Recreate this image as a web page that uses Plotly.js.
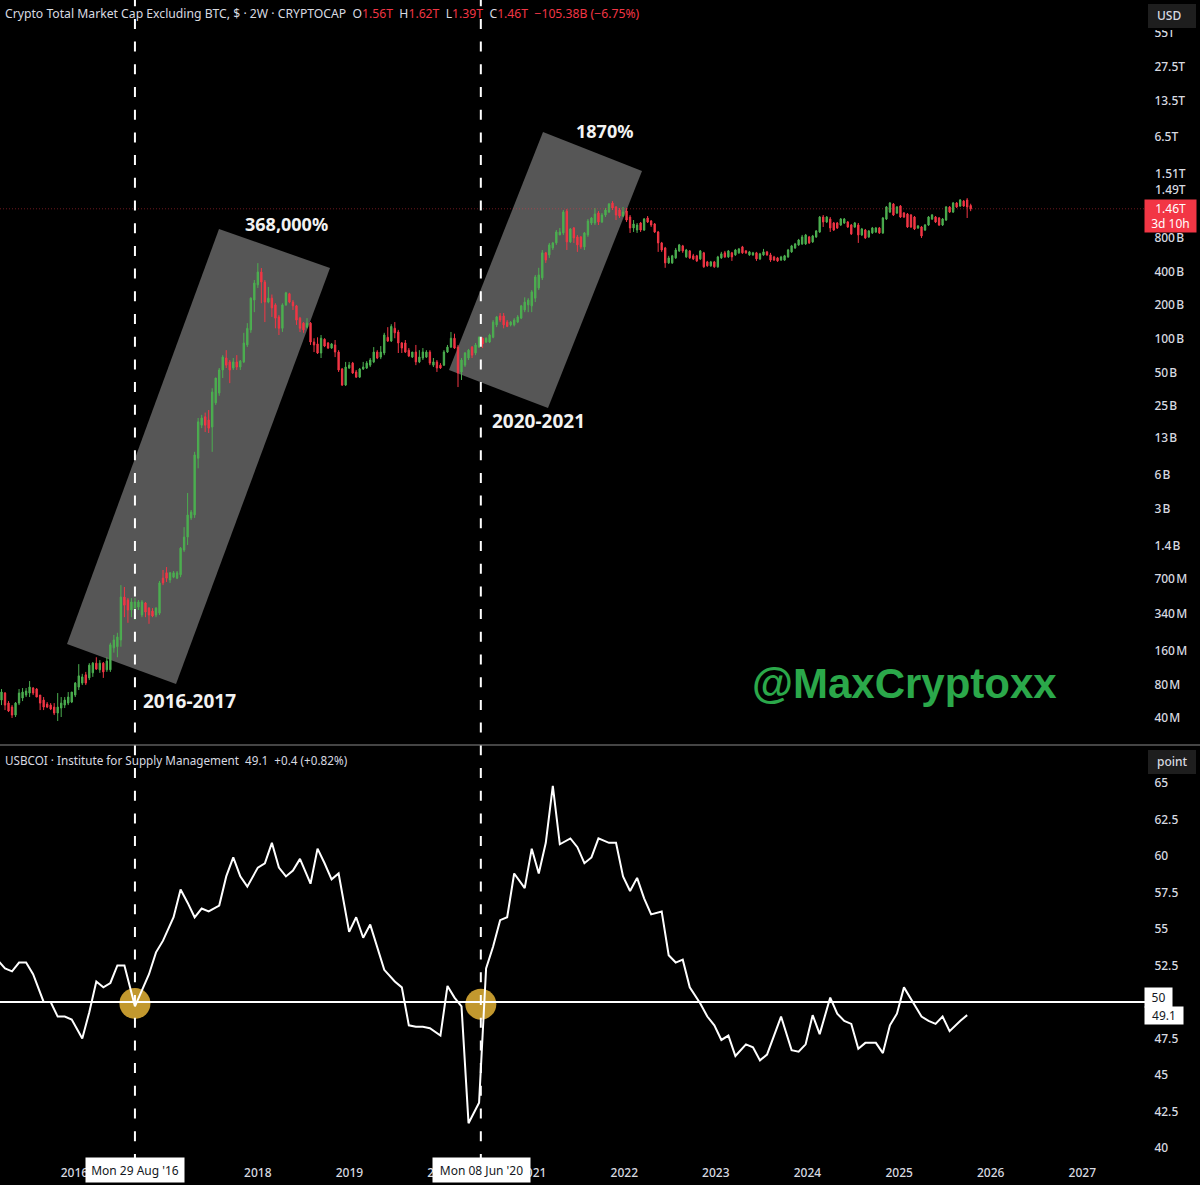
<!DOCTYPE html>
<html>
<head>
<meta charset="utf-8">
<script src="https://cdn.plot.ly/plotly-3.0.1.min.js"></script>
<style>html,body{margin:0;padding:0;background:#000}#chart{width:1200px;height:1185px}</style>
</head>
<body>
<div id="chart"></div>
<script>
// Candles: two-week bars, [open, high, low, close] in $ billions.
const candleStartDate = '2015-03-16';
const candles2015to2016 = [
[.0579,.0727,.0522,.0683],[.0669,.0683,.0471,.0522],[.0544,.0567,.0452,.0462],[.0501,.0522,.04,.0425],[.0425,.0556,.0408,.0544],
[.0544,.0727,.0522,.0669],[.0604,.0742,.0567,.0683],[.0642,.0742,.0616,.0697],[.0669,.0857,.0616,.0757],[.0742,.0757,.0642,.0669],
[.0727,.0742,.0616,.0616],[.0642,.0642,.0471,.0544],[.0579,.0616,.0471,.0501],[.0533,.0556,.0491,.0501],[.0522,.0544,.0471,.0481],
[.0501,.0544,.0425,.0443],[.0443,.0669,.0376,.0501],[.0491,.0616,.0408,.0544],[.0522,.0616,.0491,.0579],[.0544,.0683,.0522,.0616],
[.0556,.0683,.0544,.0683],[.0642,.084,.0616,.0822],[.0757,.1215,.0712,.0954],[.0822,.0994,.0789,.0934],[.0974,.1035,.0789,.0822],
[.0915,.124,.0875,.119],[.1015,.127,.0934,.124],[.124,.14,.108,.1097],[.108,.132,.1015,.124],[.124,.127,.0915,.1035],
[.108,.14,.1035,.1295],[.108,.189,.1035,.181],[.17,.222,.154,.2],[.174,.232,.14,.213],[.2,.62,.174,.485],
[.485,.597,.32,.41],[.456,.475,.285,.371],[.371,.475,.32,.438],[.386,.475,.302,.438],[.394,.456,.371,.438],
[.335,.456,.32,.438],[.429,.438,.32,.356],[.386,.394,.279,.335],[.363,.386,.32,.328],[.335,.394,.32,.386],
[.348,.675,.335,.649],[.716,.847,.62,.649],[.8,.9,.662,.716],[.689,.813,.649,.8],[.73,.83,.716,.8],
[.716,.83,.702,.8],[.768,1.36,.73,1.33],[1.28,2.05,1.23,1.67],[1.67,4.15,1.42,2.64]
];
const candles2017to2018 = [
[2.48,2.92,2.38,2.8],[2.64,9.7,2.48,9.1],[8.5,19.5,6.9,18],[16.8,20.8,15.8,19.5],[20,21.8,14.6,16.8],
[18.7,23,14.3,15.8],[16.2,36,9.7,33.3],[26.6,44.5,25.5,44.5],[32.6,54.7,30.8,52.5],[52.5,71.3,44.5,68.5],
[67.2,79,54.7,58],[62,64.5,40,52.5],[54.7,67.2,52.5,62],[62,71.3,52.5,55.8],[55.8,64.5,52.5,63],
[62,113,60.5,91.6],[88,138,84.2,124],[120,235,113,231],[222,336,173,316],[304,476,285,396],
[396,430,208,322],[322,336,141,213],[213,291,208,231],[231,249,157,189],[201,208,124,153],
[157,163,108,124],[124,208,115,201],[201,263,197,258],[253,258,208,213],[213,222,181,197],
[197,201,133,147],[153,157,115,124],[138,141,113,120],[127,153,124,138],[138,141,88,93.5],
[93.5,101,76,88],[89.8,103,73,74.5],[74.5,108,67.2,101],[99,101,84.2,86],[91.6,93.5,81,82.5],
[82.5,91.6,81,89.8],[88,97.4,68.5,76],[76,79,50.4,52.5],[53.6,54.7,37.7,38.5],[38.5,62,37.7,55.8]
];
const candles2019to2020 = [
[54.7,62,53.6,58],[60.5,62,48.4,49.3],[50.4,52.5,44.5,45.3],[45.3,54.7,44.5,53.6],[53.6,62,52.5,55.8],
[54.7,63,53.6,60.5],[58,67.2,55.8,64.5],[62,84.2,60.5,76],[76,79,65.7,67.2],[68.5,86,65.7,76],
[74.5,113,71.3,108],[103,127,93.5,95.5],[95.5,135,93.5,129],[124,141,101,113],[115,120,74.5,91.6],
[91.6,93.5,74.5,82.5],[91.6,97.4,74.5,76],[79,82.5,68.5,70],[68.5,76,67.2,76],[76,88,58,62],
[62,79,60.5,68.5],[67.2,82.5,64.5,76],[68.5,79,67.2,76],[76,79,58,60.5],[58,67.2,55.8,62],
[62,64.5,50.4,54.7],[58,60.5,53.6,54.7],[58,79,57,76],[76,88,74.5,84.2],[84.2,115,82.5,101],
[101,111,81,82.5],[84.2,88,36.9,49.3],[50.4,67.2,42.7,64.5],[58,76,55.8,74.5],[67.2,81,64.5,79],
[84.2,86,67.2,71.3],[74.5,91.6,71.3,88],[84.2,105,82.5,103],[101,103,82.5,89.8],[93.5,103,91.6,101],
[93.5,111,91.6,108],[103,147,101,141],[133,160,127,157],[160,170,141,147],[160,170,124,133],
[141,147,127,129],[133,144,129,141],[133,153,129,147],[141,163,138,157],[153,201,150,197],
[181,235,173,213],[201,231,173,222],[197,273,173,263]
];
const candles2021to2022 = [
[231,373,213,358],[285,432,273,373],[351,624,336,588],[588,600,478,507],[564,722,530,693],
[651,737,624,722],[722,942,693,905],[851,983,851,905],[887,1423,851,1366],[1394,1453,624,737],
[737,983,722,963],[983,1003,722,800],[817,851,600,693],[817,834,638,665],[665,905,624,887],
[851,1182,817,1135],[1089,1232,1045,1207],[1089,1483,1045,1311],[1338,1394,1045,1112],[1112,1338,1089,1284],
[1284,1483,1232,1423],[1366,1645,1338,1610],[1645,1712,1423,1483],[1515,1545,1158,1284],[1423,1483,1207,1258],
[1258,1515,1232,1366],[1394,1483,1112,1158],[1232,1284,887,983],[983,1158,905,1067],[942,1089,887,1045],
[1089,1112,905,942],[942,1207,924,1182],[1207,1258,1089,1112],[1135,1158,1003,1045],[1067,1089,887,905],
[905,924,600,722],[722,737,600,624],[651,665,432,478],[478,553,468,530],[478,564,468,553],
[530,651,519,624],[612,707,600,693],[679,693,588,612],[541,638,530,624],[612,624,519,530],
[553,576,507,519],[553,564,488,498],[519,624,507,612],[588,600,432,441],[488,498,441,450],
[450,498,441,488],[488,498,432,441],[441,553,432,541]
];
const candles2023to2025 = [
[530,600,519,576],[588,612,530,541],[541,624,530,612],[588,600,498,541],[564,638,553,624],
[588,651,576,638],[665,679,576,588],[612,624,576,588],[564,612,553,600],[564,600,553,588],
[588,600,498,519],[519,588,507,576],[564,638,553,600],[600,612,553,564],[564,588,488,507],
[541,553,498,507],[530,541,488,498],[507,553,498,541],[507,564,498,553],[541,638,530,624],
[600,693,588,679],[651,722,638,707],[693,784,679,767],[707,851,693,817],[707,869,693,851],
[817,834,707,722],[737,851,722,834],[817,942,800,924],[905,1258,887,1232],[1232,1284,1003,1112],
[1112,1258,1089,1232],[1182,1232,905,983],[1089,1112,924,942],[1089,1112,963,983],[1045,1207,1024,1182],
[1089,1207,1067,1182],[1112,1135,983,1003],[1045,1067,851,869],[1003,1112,983,1089],[1045,1089,722,851],
[851,983,834,963],[942,963,784,800],[817,942,800,924],[887,1003,869,983],[905,1003,887,983],
[983,1003,869,887],[887,1232,869,1207],[1182,1545,1158,1515],[1366,1680,1338,1645],[1610,1645,1258,1284],
[1338,1545,1311,1515],[1545,1578,1207,1232],[1338,1366,1207,1232],[1311,1338,983,1003],[1284,1311,983,1003],
[1232,1258,942,963],[983,1045,963,1024],[1003,1024,800,834],[942,1067,924,1045],[1045,1258,1024,1232],
[1182,1311,1158,1284],[1232,1258,1089,1112],[1207,1232,1024,1045],[1045,1207,1024,1182],[1158,1545,1135,1515],
[1515,1545,1338,1366],[1366,1680,1338,1645],[1645,1680,1483,1515],[1545,1785,1515,1750],[1712,1750,1515,1545],
[1750,1820,1207,1515],[1560,1620,1390,1460]
];
const lastPrice = 1460;

// ISM Manufacturing PMI, monthly
const pmiFirstMonth = '2015-02';
const pmi2015 = [53.1,52.3,52.1,52.7,52.7,51.9,50.0,50.0,49.0,49.0,48.8];
const pmi2016 = [47.5,49.3,51.4,51.0,51.3,52.5,52.5,49.7,50.8,51.9,53.4,54.2];
const pmi2017 = [55.8,57.7,56.8,55.8,56.4,56.2,56.6,58.6,59.9,58.6,57.9,59.2];
const pmi2018 = [59.5,60.9,59.2,58.6,59.0,59.8,58.1,60.5,59.5,58.4,58.8,54.8];
const pmi2019 = [55.8,54.4,55.3,53.8,52.2,51.4,51.0,48.4,48.3,48.3,48.2,47.7];
const pmi2020 = [51.1,50.3,49.7,41.7,43.1,52.3,53.8,55.6,55.8,58.8,57.8,60.5];
const pmi2021 = [58.8,60.9,64.8,60.8,61.2,60.6,59.5,59.9,61.2,60.9,60.9,58.6];
const pmi2022 = [57.6,58.5,57.1,56.0,56.2,53.2,52.7,52.9,51.0,49.9,49.0,48.4];
const pmi2023 = [47.4,47.7,46.3,47.1,46.9,46.0,46.4,47.7,49.0,46.7,46.6,47.1];
const pmi2024 = [49.1,47.8,50.3,49.2,48.7,48.5,46.8,47.2,47.2,46.5,48.4,49.2];
const pmi2025 = [51.0,50.2,49.0,48.7,48.5,49.0,48.0,48.7,49.1];
const pmiLevel = 50;

const crossDates = ['2016-08-29','2020-06-08'];
const crossValues = [49.9,49.85];

// Axis ticks
const priceTickVals = [.04,.08,.16,.34,.7,1.4,3,6,13,25,50,100,200,400,800,6500,13500,27500,55000];
const priceTickText = ['40\u200aM','80\u200aM','160\u200aM','340\u200aM','700\u200aM','1.4\u200aB','3\u200aB','6\u200aB','13\u200aB','25\u200aB','50\u200aB','100\u200aB','200\u200aB','400\u200aB','800\u200aB','6.5T','13.5T','27.5T','55T'];
const pmiTickVals = [40,42.5,45,47.5,52.5,55,57.5,60,62.5,65];
const yearTickVals = ['2016-01-01','2018-01-01','2019-01-01','2020-01-01','2021-01-01','2022-01-01','2023-01-01','2024-01-01','2025-01-01','2026-01-01','2027-01-01'];
const yearTickText = ['2016','2018','2019','2020','2021','2022','2023','2024','2025','2026','2027'];
const xRange = ['2015-03-10','2027-09-08'];

// Page geometry
const PW = 1145, PH = 1155;
const px = x => x / PW;
const py = y => 1 - y / PH;
const FONT = 'Noto Sans';
const TXT = '#d8dae0', RED = '#f23645', GREEN = '#4caf50';

const candles = [].concat(candles2015to2016, candles2017to2018, candles2019to2020, candles2021to2022, candles2023to2025);
const DAY = 86400000;
const iso = ms => new Date(ms).toISOString().slice(0,10);
const startMs = Date.parse(candleStartDate);
const candleDates = candles.map((_, i) => iso(startMs + i * 14 * DAY));

// Monthly PMI points sit on the two-week bar holding the first day of the following month.
const pmiValues = [].concat(pmi2015,pmi2016,pmi2017,pmi2018,pmi2019,pmi2020,pmi2021,pmi2022,pmi2023,pmi2024,pmi2025);
const anchorMs = Date.parse('2016-08-29');
const pmiDateOverride = {'2016-07':'2016-07-18'};
const [fy, fm] = pmiFirstMonth.split('-').map(Number);
const pmiDates = pmiValues.map((_, i) => {
  const key = new Date(Date.UTC(fy, fm - 1 + i, 1)).toISOString().slice(0,7);
  if (pmiDateOverride[key]) return pmiDateOverride[key];
  const next = Date.UTC(fy, fm + i, 1);
  const n = Math.floor((next - anchorMs) / (14 * DAY));
  return iso(anchorMs + n * 14 * DAY);
});

const data = [
  {type:'scatter', mode:'lines', x:xRange, y:[lastPrice,lastPrice], xaxis:'x', yaxis:'y',
   line:{color:'rgba(242,54,69,0.45)', width:1, dash:'1px,2px'}, hoverinfo:'skip', showlegend:false},
  {type:'candlestick', x:candleDates, xaxis:'x', yaxis:'y',
   open:candles.map(c=>c[0]), high:candles.map(c=>c[1]), low:candles.map(c=>c[2]), close:candles.map(c=>c[3]),
   increasing:{line:{color:GREEN,width:1}, fillcolor:GREEN},
   decreasing:{line:{color:RED,width:1}, fillcolor:RED},
   whiskerwidth:0, hoverinfo:'skip', showlegend:false},
  {type:'scatter', mode:'markers', x:crossDates, y:crossValues, xaxis:'x', yaxis:'y2',
   marker:{size:31, color:'#c2982e', line:{width:0}}, hoverinfo:'skip', showlegend:false},
  {type:'scatter', mode:'lines', x:xRange, y:[pmiLevel,pmiLevel], xaxis:'x', yaxis:'y2',
   line:{color:'#ffffff', width:2}, hoverinfo:'skip', showlegend:false},
  {type:'scatter', mode:'lines', x:pmiDates, y:pmiValues, xaxis:'x', yaxis:'y2',
   line:{color:'#ffffff', width:2}, hoverinfo:'skip', showlegend:false}
];

function note(text, x, y, o) {
  o = o || {};
  return Object.assign({text, xref:'paper', yref:'paper', x:px(x), y:py(y), showarrow:false,
    xanchor:o.xa||'center', yanchor:'middle', align:o.align||'center',
    font:{family:o.family||FONT, size:o.size||12, color:o.color||TXT, weight:o.weight||400}}, o.extra||{});
}
function box(text, x0, y0, x1, y1, bg, color, size) {
  return note(text, (x0+x1)/2, (y0+y1)/2, {color, size:size||12, extra:{width:x1-x0, height:y1-y0, bgcolor:bg, borderpad:0}});
}
function rect(x0,y0,x1,y1,color,layer){
  return {type:'rect', xref:'paper', yref:'paper', x0:px(x0), x1:px(x1), y0:py(y0), y1:py(y1),
    fillcolor:color, line:{width:0}, layer:layer||'above'};
}
function poly(points){
  return {type:'path', xref:'paper', yref:'paper', layer:'below', fillcolor:'#565656', line:{width:0},
    path:points.map((p,i)=>(i?'L':'M')+px(p[0]).toFixed(5)+','+py(p[1]).toFixed(5)).join(' ')+' Z'};
}
function vline(d){
  return {type:'line', xref:'x', yref:'paper', x0:d, x1:d, y0:py(-3.8), y1:py(1158),
    line:{color:'#ffffff', width:2, dash:'10px,12.7px'}, layer:'above'};
}

const r = c => '<span style="color:'+RED+'">'+c+'</span>';
const sp = '\u00a0\u00a0';
const headerTop = 'Crypto Total Market Cap Excluding BTC, $ · 2W · CRYPTOCAP'+sp+'O'+r('1.56T')+sp+'H'+r('1.62T')+sp+'L'+r('1.39T')+sp+'C'+r('1.46T')+sp+r('−105.38B (−6.75%)');
const headerBottom = 'USBCOI · Institute for Supply Management'+sp+'49.1'+sp+'+0.4 (+0.82%)';

const axisFont = {family:FONT, size:12, color:TXT, weight:500};
const layout = {
  width:1200, height:1185,
  margin:{l:0, r:55, t:0, b:30, pad:0},
  paper_bgcolor:'#000000', plot_bgcolor:'#000000',
  showlegend:false, hovermode:false, dragmode:false, boxgap:0.45,
  xaxis:{type:'date', domain:[0,1], range:xRange, anchor:'y2', rangeslider:{visible:false},
    tickmode:'array', tickvals:yearTickVals, ticktext:yearTickText,
    ticks:'outside', ticklen:7, tickcolor:'#000000', tickwidth:0,
    tickfont:axisFont, showgrid:false, zeroline:false, showline:false},
  yaxis:{type:'log', domain:[1-744/1155,1], range:[-1.631,5.035], side:'right', anchor:'x',
    tickmode:'array', tickvals:priceTickVals, ticktext:priceTickText,
    ticks:'outside', ticklen:6, tickcolor:'#000000', tickwidth:0,
    tickfont:axisFont, showgrid:false, zeroline:false, showline:false},
  yaxis2:{type:'linear', domain:[0,1-746/1155], range:[39.52,67.53], side:'right', anchor:'x',
    tickmode:'array', tickvals:pmiTickVals,
    ticks:'outside', ticklen:6, tickcolor:'#000000', tickwidth:0,
    tickfont:axisFont, showgrid:false, zeroline:false, showline:false},
  shapes:[
    poly([[219,229],[330,268],[176,684],[67,644]]),
    poly([[543,132],[642,171],[548,408],[449,370]]),
    vline(crossDates[0]), vline(crossDates[1]),
    {type:'line', xref:'paper', yref:'paper', x0:0, x1:1200/PW, y0:py(745), y1:py(745), line:{color:'#8a8a8a', width:1}},
    rect(1146,0,1200,30,'#000000'),
    rect(1148,4,1196,28,'#1e1e1e'),
    rect(1148,750,1196,774,'#1e1e1e')
  ],
  annotations:[
    note(headerTop, 3, 14, {xa:'left', align:'left', size:12.2}),
    note(headerBottom, 3, 760, {xa:'left', align:'left', size:11.7}),
    note('<b>368,000%</b>', 286, 224, {size:18, color:'#f2f2f2'}),
    note('<b>1870%</b>', 604, 131, {size:18, color:'#f2f2f2'}),
    note('<b>2016-2017</b>', 189, 701, {size:19, color:'#f2f2f2'}),
    note('<b>2020-2021</b>', 538, 421, {size:19, color:'#f2f2f2'}),
    note('<b>@MaxCryptoxx</b>', 904, 683, {size:42, color:'#2ba84a', family:'Liberation Sans'}),
    note('USD', 1169, 15, {size:12, weight:500}),
    note('point', 1172, 761, {size:12, weight:500}),
    note('1.51T', 1153, 173, {xa:'left', weight:500}),
    note('1.49T', 1153, 190, {xa:'left', weight:500}),
    box('1.46T<br>3d 10h', 1145, 200, 1196, 232, RED, '#ffffff'),
    box('50', 1145, 988, 1172, 1007, '#ffffff', '#131722'),
    box('49.1', 1145, 1007, 1183, 1024, '#ffffff', '#131722'),
    box('Mon 29 Aug \'16', 86, 1158, 184, 1182, '#ffffff', '#131722'),
    box('Mon 08 Jun \'20', 433, 1158, 530, 1182, '#ffffff', '#131722')
  ]
};

Plotly.newPlot('chart', data, layout, {staticPlot:true, displayModeBar:false});
</script>
</body>
</html>
